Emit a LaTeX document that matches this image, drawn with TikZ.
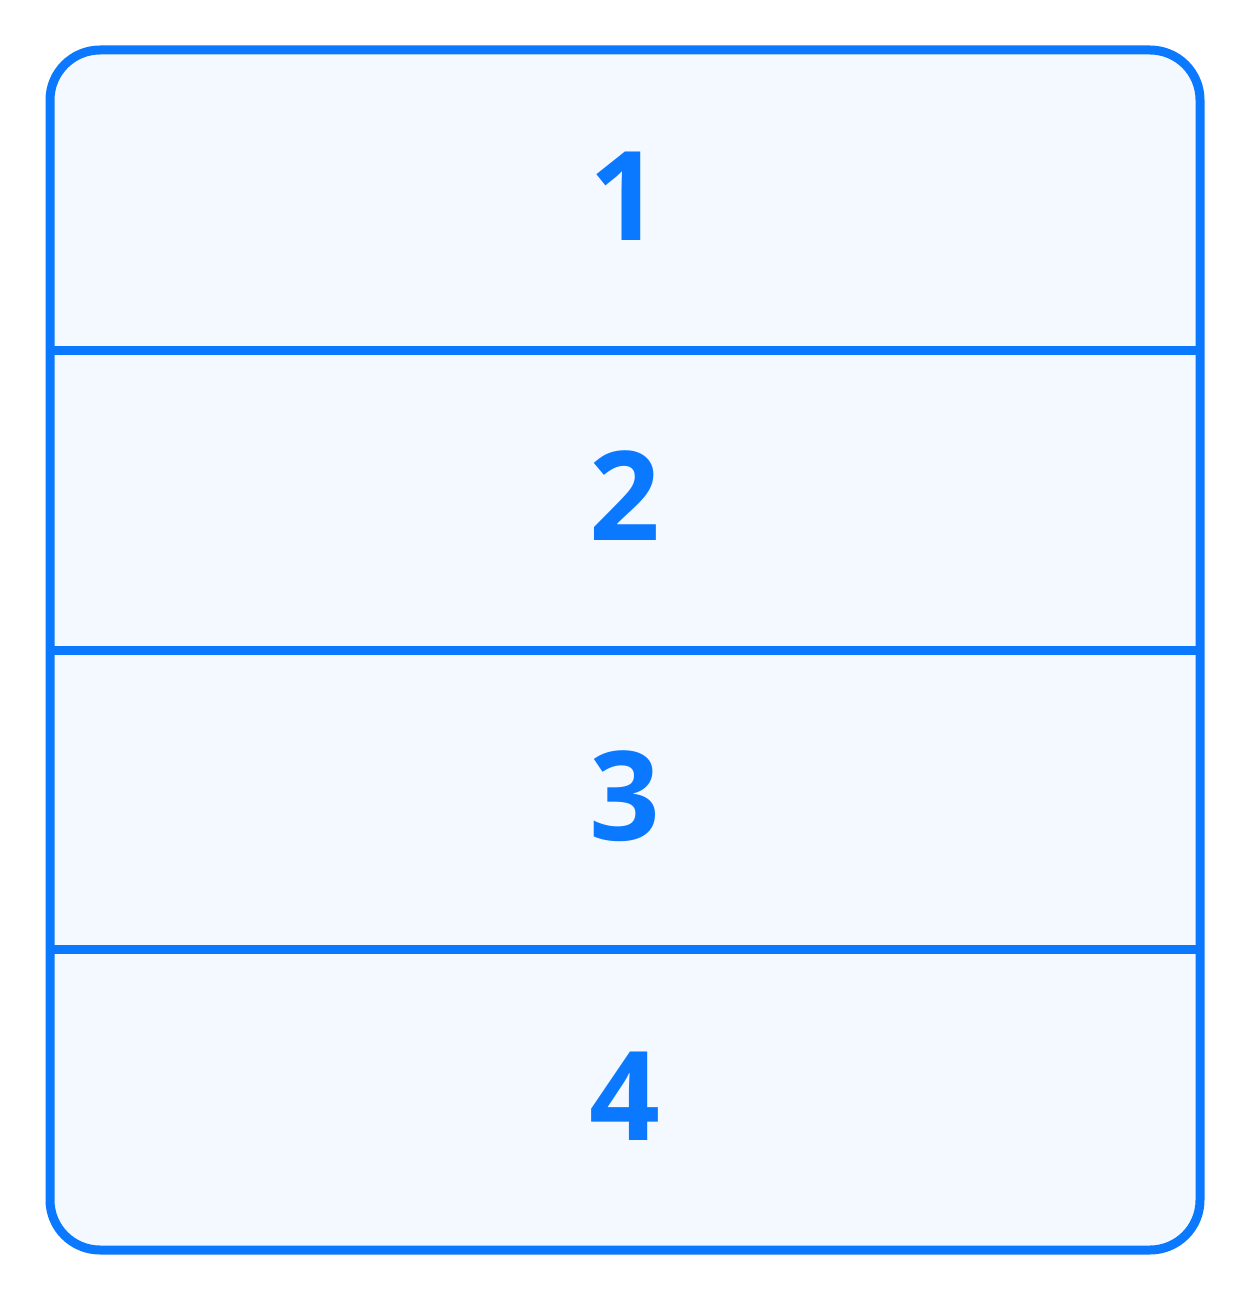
\documentclass[tikz,border=0pt]{standalone}
\usepackage{fontspec}
\setmainfont{Open Sans}
\definecolor{bl}{RGB}{10,120,255}
\definecolor{bg}{RGB}{244,249,255}
\tikzset{
  cell/.style={draw=bl, line width=9pt},
  lbl/.style={text=bl, font=\fontsize{124}{124}\selectfont\bfseries, inner sep=0pt, anchor=center}
}
\begin{document}
\begin{tikzpicture}[x=1pt,y=-1pt]
\useasboundingbox (0,0) rectangle (1250,1300);
\draw[cell, fill=bg, rounded corners=50pt] (50,50) rectangle (1200,1250);
\coordinate (a1) at (50,350); \coordinate (b1) at (1200,350);
\coordinate (a2) at (50,650); \coordinate (b2) at (1200,650);
\coordinate (a3) at (50,949); \coordinate (b3) at (1200,949);
\draw[cell] (a1) -- (b1);
\draw[cell] (a2) -- (b2);
\draw[cell] (a3) -- (b3);
\node[lbl] (n1) at (625,196) {1};
\node[lbl] (n2) at (625,496) {2};
\node[lbl] (n3) at (625,796) {3};
\node[lbl] (n4) at (625,1096) {4};
\end{tikzpicture}
\end{document}
